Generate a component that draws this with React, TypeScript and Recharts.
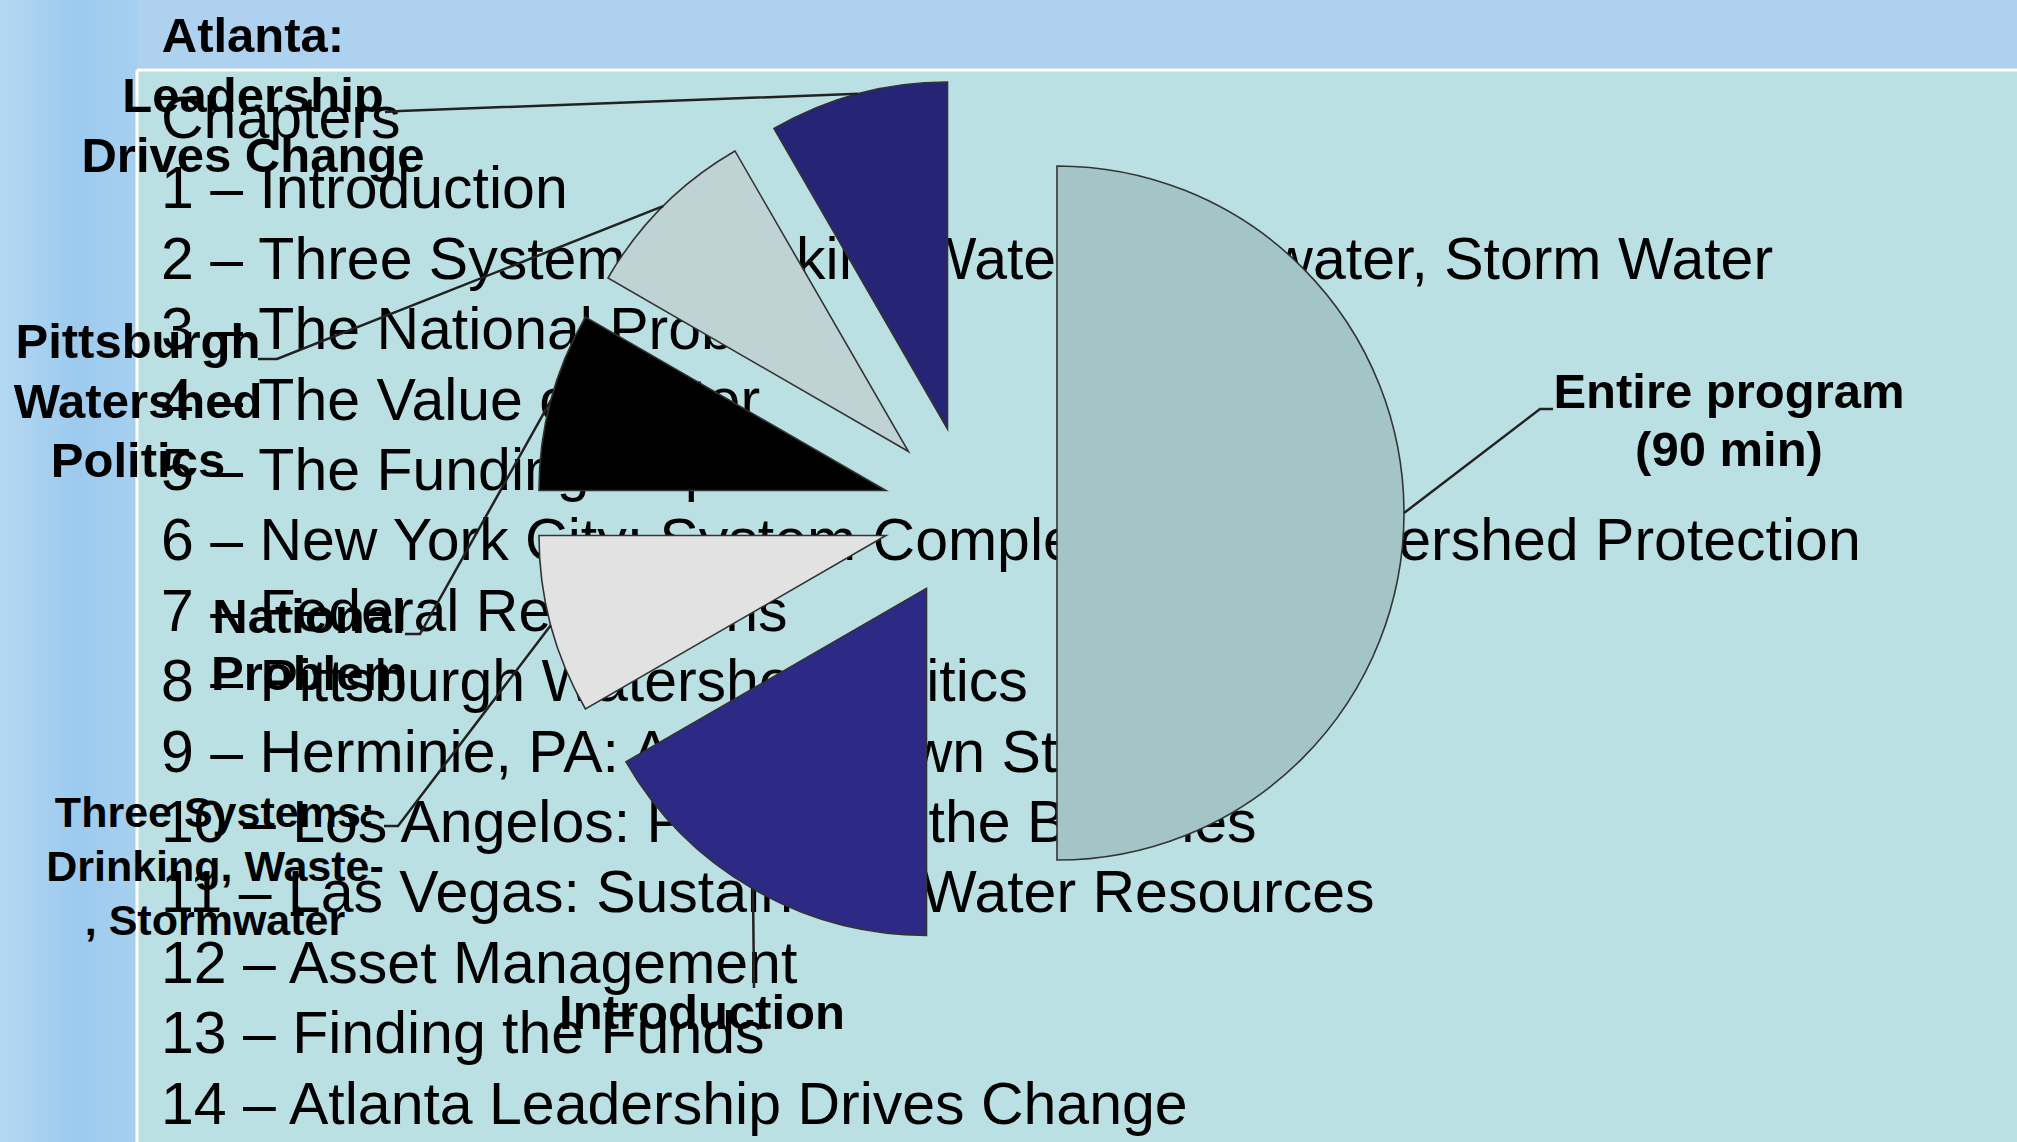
import { PieChart, Pie, Cell, Sector, Tooltip } from "recharts";

// program segments, minutes
const categories = [
  "Entire program",
  "Introduction",
  "Three Systems",
  "National Problem",
  "Pittsburgh Watershed Politics",
  "Atlanta: Leadership Drives Change",
];
const minutes = [90, 30, 15, 15, 15, 15];
const sliceColors = ["#A4C5C8", "#2D2A85", "#E2E2E2", "#000000", "#BFD3D5", "#262575"];
const labelLines = [
  ["Entire program", "(90 min)"],
  ["Introduction"],
  ["Three Systems:", "Drinking, Waste-", ", Stormwater"],
  ["National", "Problem"],
  ["Pittsburgh", "Watershed", "Politics"],
  ["Atlanta:", "Leadership", "Drives Change"],
];

const chapters = [
  "Chapters",
  "1 – Introduction",
  "2 – Three Systems: Drinking Water, Wastewater, Storm Water",
  "3 – The National Problem",
  "4 – The Value of Water",
  "5 – The Funding Gap",
  "6 – New York City: System Complexity and Watershed Protection",
  "7 – Federal Regulations",
  "8 – Pittsburgh Watershed Politics",
  "9 – Herminie, PA: A Small Town Story",
  "10 – Los Angelos: Protecting the Beaches",
  "11 – Las Vegas: Sustainable Water Resources",
  "12 – Asset Management",
  "13 – Finding the Funds",
  "14 – Atlanta Leadership Drives Change",
];

const W = 2017;
const H = 1142;
const EXPLODE = 87;
const RAD = Math.PI / 180;
const FONT = "'Liberation Sans', Arial, Helvetica, sans-serif";

// where each label sits (text x, first baseline, line gap, size) and where its leader ends
const LABEL_LAYOUT = [
  { x: 1729, y: 408, gap: 58, size: 49, elbow: [1540, 409], end: [1553, 409] },
  { x: 702, y: 1029, gap: 58, size: 49, elbow: [754, 988], end: [754, 988] },
  { x: 215, y: 827, gap: 54, size: 43, elbow: [398, 826], end: [384, 826] },
  { x: 309, y: 633, gap: 57, size: 49, elbow: [420, 634], end: [405, 634] },
  { x: 138, y: 358, gap: 59.5, size: 49, elbow: [277, 359], end: [258, 359] },
  { x: 253, y: 52, gap: 60, size: 49, elbow: [400, 111], end: [385, 112] },
];

const pieData = categories.map((name, i) => ({ name, value: minutes[i] }));

const renderSlice = (props: any) => {
  const { cx, cy, midAngle, innerRadius, outerRadius, startAngle, endAngle, fill } = props;
  const dx = EXPLODE * Math.cos(-midAngle * RAD);
  const dy = EXPLODE * Math.sin(-midAngle * RAD);
  return (
    <Sector
      cx={cx + dx}
      cy={cy + dy}
      innerRadius={innerRadius}
      outerRadius={outerRadius}
      startAngle={startAngle}
      endAngle={endAngle}
      fill={fill}
      stroke="#333"
      strokeWidth={1.6}
    />
  );
};

const renderLabel = (props: any) => {
  const { cx, cy, midAngle, outerRadius, index } = props;
  const lay = LABEL_LAYOUT[index];
  const r = outerRadius + EXPLODE;
  const sx = cx + r * Math.cos(-midAngle * RAD);
  const sy = cy + r * Math.sin(-midAngle * RAD);
  const pts = `${sx},${sy} ${lay.elbow[0]},${lay.elbow[1]} ${lay.end[0]},${lay.end[1]}`;
  return (
    <g key={`lbl-${index}`}>
      <polyline points={pts} fill="none" stroke="#222" strokeWidth={2.5} />
      <text
        textAnchor="middle"
        fontFamily={FONT}
        fontWeight="bold"
        fontSize={lay.size}
        fill="#000"
      >
        {labelLines[index].map((ln, j) => (
          <tspan key={j} x={lay.x} y={lay.y + j * lay.gap}>
            {ln}
          </tspan>
        ))}
      </text>
    </g>
  );
};

export default function App() {
  return (
    <div style={{ position: "fixed", left: 0, top: 0, width: W, height: H, overflow: "hidden" }}>
      <svg width={W} height={H} style={{ position: "absolute", left: 0, top: 0 }}>
        <defs>
          <linearGradient id="sideGrad" x1="0" y1="0" x2="1" y2="0">
            <stop offset="0%" stopColor="#B4D8F3" />
            <stop offset="55%" stopColor="#9CCAEE" />
            <stop offset="100%" stopColor="#A6D0F0" />
          </linearGradient>
        </defs>
        <rect x={0} y={0} width={W} height={H} fill="#ADD1EE" />
        <rect x={0} y={0} width={138} height={H} fill="url(#sideGrad)" />
        <rect x={137} y={70} width={W - 137} height={H - 70} fill="#BBE0E3" />
        <line x1={137} y1={70} x2={W} y2={70} stroke="#fff" strokeWidth={3} />
        <line x1={137} y1={70} x2={137} y2={H} stroke="#fff" strokeWidth={3} />
        {chapters.map((c, i) => (
          <text key={i} x={161} y={138 + i * 70.4} fontFamily={FONT} fontSize={59} fill="#000">
            {c}
          </text>
        ))}
      </svg>
      <div style={{ position: "absolute", left: 0, top: 0 }}>
        <PieChart width={W} height={H} margin={{ top: 0, right: 0, bottom: 0, left: 0 }}>
          <Pie
            data={pieData}
            dataKey="value"
            nameKey="name"
            cx={970}
            cy={513}
            outerRadius={347}
            startAngle={90}
            endAngle={-270}
            stroke="#333"
            strokeWidth={1.6}
            shape={renderSlice}
            activeShape={renderSlice}
            inactiveShape={renderSlice}
            label={renderLabel}
            labelLine={false}
            isAnimationActive={false}
          >
            {pieData.map((d, i) => (
              <Cell key={d.name} fill={sliceColors[i]} />
            ))}
          </Pie>
          <Tooltip defaultIndex={0} content={() => null} cursor={false} />
        </PieChart>
      </div>
    </div>
  );
}
